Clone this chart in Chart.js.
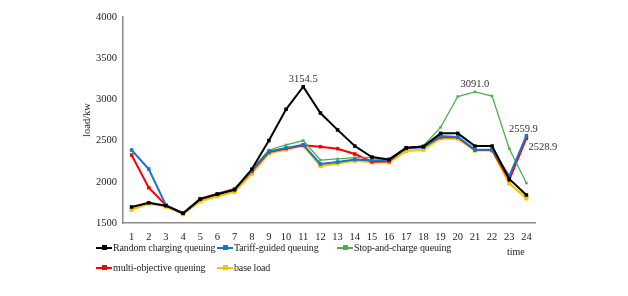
<!DOCTYPE html>
<html>
<head>
<meta charset="utf-8">
<script src="https://cdn.jsdelivr.net/npm/chart.js@4.4.0/dist/chart.umd.min.js"></script>
<style>
  body { margin: 0; background: #fff; }
  #wrap { position: relative; width: 628px; height: 296px; font-family: "Liberation Serif", "Times New Roman", serif; }
  #wrap canvas { position: absolute; left: 0; top: 0; }
  .leg { position: absolute; font-size: 10px; color: #222; white-space: nowrap; line-height: 12px; letter-spacing: -0.15px; }
  .leg .mk { display: inline-block; position: relative; width: 16px; height: 12px; vertical-align: top; margin-right: 1px; }
  .leg .mk i { position: absolute; left: 0; right: 0; top: 5px; height: 2px; }
  .leg .mk b { position: absolute; left: 6px; top: 3px; width: 5px; height: 5px; }
  #timeLbl { position: absolute; left: 507px; top: 246px; font-size: 10px; color: #222; }
</style>
</head>
<body>
<div id="wrap">
  <canvas id="grafico" width="628" height="296"></canvas>
  <div id="legenda"></div>
  <span id="timeLbl">time</span>
</div>
<script>
// horas do dia
const horas = ['1','2','3','4','5','6','7','8','9','10','11','12','13','14','15','16','17','18','19','20','21','22','23','24'];

// series (kW)
const randomQueuing = [1695, 1745, 1710, 1618, 1790, 1850, 1905, 2152, 2500, 2880, 3154.5, 2835, 2630, 2434, 2300, 2272, 2412, 2428, 2588, 2588, 2434, 2434, 2035, 1840];
const tariffQueuing = [2386, 2155, 1715, 1618, 1790, 1850, 1905, 2140, 2370, 2410, 2450, 2216, 2240, 2270, 2260, 2268, 2405, 2420, 2555, 2545, 2390, 2390, 2070, 2559.9];
const stopQueuing   = [1690, 1745, 1710, 1618, 1785, 1850, 1910, 2152, 2386, 2447, 2500, 2264, 2277, 2293, 2295, 2272, 2405, 2438, 2661, 3035, 3091.0, 3041, 2402, 1985];
const multiQueuing  = [2325, 1929, 1715, 1618, 1795, 1855, 1912, 2130, 2360, 2405, 2443, 2426, 2402, 2337, 2244, 2250, 2414, 2426, 2545, 2540, 2386, 2386, 2022, 2528.9];
const baseLoad      = [1660, 1738, 1700, 1608, 1765, 1826, 1880, 2100, 2346, 2394, 2440, 2192, 2224, 2256, 2237, 2237, 2374, 2389, 2530, 2525, 2380, 2380, 1982, 1800];

const nomes = ['Random charging queuing', 'Tariff-guided queuing', 'Stop-and-charge queuing', 'multi-objective queuing', 'base load'];
const cores = ['#000000', '#1874cd', '#4cb04c', '#ff0000', '#ffc000'];

// rotulos de valor: [serie, ponto, texto]
const rotulos = [
  [0, 10, '3154.5'],
  [2, 20, '3091.0'],
  [1, 23, '2559.9'],
  [3, 23, '2528.9']
];

const pluginRotulos = {
  id: 'rotulos',
  afterDatasetsDraw(chart) {
    const ctx = chart.ctx;
    ctx.save();
    ctx.font = '10.5px "Liberation Serif", serif';
    ctx.fillStyle = '#333';
    rotulos.forEach(([s, i, txt]) => {
      const p = chart.getDatasetMeta(s).data[i];
      if (s === 3) {
        ctx.textAlign = 'left';
        ctx.textBaseline = 'middle';
        ctx.fillText(txt, p.x + 2, p.y + 9);
      } else if (s === 1) {
        ctx.textAlign = 'center';
        ctx.textBaseline = 'bottom';
        ctx.fillText(txt, p.x - 3, p.y - 1);
      } else {
        ctx.textAlign = 'center';
        ctx.textBaseline = 'bottom';
        ctx.fillText(txt, p.x, p.y - 2);
      }
    });
    ctx.restore();
  }
};

const series = [randomQueuing, tariffQueuing, stopQueuing, multiQueuing, baseLoad];
const larguras = [2, 2, 1.3, 2, 2.2];
const raios = [2.5, 2.5, 1.8, 2.5, 3];

const ctx = document.getElementById('grafico').getContext('2d');
const grafico = new Chart(ctx, {
  type: 'line',
  data: {
    labels: horas,
    datasets: series.map((d, k) => ({
      label: nomes[k],
      data: d,
      borderColor: cores[k],
      backgroundColor: cores[k],
      borderWidth: larguras[k],
      pointStyle: 'rect',
      pointRadius: raios[k],
      pointBorderWidth: 0,
      tension: 0
    }))
  },
  plugins: [pluginRotulos],
  options: {
    responsive: false,
    animation: false,
    layout: { padding: { left: 77, right: 93, top: 17, bottom: 49 } },
    plugins: {
      legend: { display: false },
      tooltip: { enabled: false }
    },
    scales: {
      x: {
        offset: true,
        grid: { display: false, drawTicks: false },
        border: { display: true, color: '#8c8c8c', width: 1.5 },
        ticks: { color: '#222', padding: 8, font: { family: 'Liberation Serif', size: 10.5 } },
        afterFit(s) { s.height = 24; }
      },
      y: {
        min: 1500,
        max: 4000,
        grid: { display: false, drawTicks: false },
        border: { display: true, color: '#8c8c8c', width: 1.5 },
        ticks: {
          stepSize: 500, color: '#222', padding: 6,
          font: { family: 'Liberation Serif', size: 10.5 },
          callback: v => String(v)
        },
        title: { display: true, text: 'load/kw', color: '#222', padding: 4, font: { family: 'Liberation Serif', size: 10.5 } },
        afterFit(s) { s.width = 46; }
      }
    }
  }
});

// legenda em grade, como no original
const posLegenda = [[96, 242], [217, 242], [337, 242], [96, 262], [217, 262]];
const legenda = document.getElementById('legenda');
nomes.forEach((n, k) => {
  const el = document.createElement('div');
  el.className = 'leg';
  el.style.left = posLegenda[k][0] + 'px';
  el.style.top = posLegenda[k][1] + 'px';
  el.innerHTML = `<span class="mk"><i style="background:${cores[k]}"></i><b style="background:${cores[k]}"></b></span>${n}`;
  legenda.appendChild(el);
});
</script>
</body>
</html>
